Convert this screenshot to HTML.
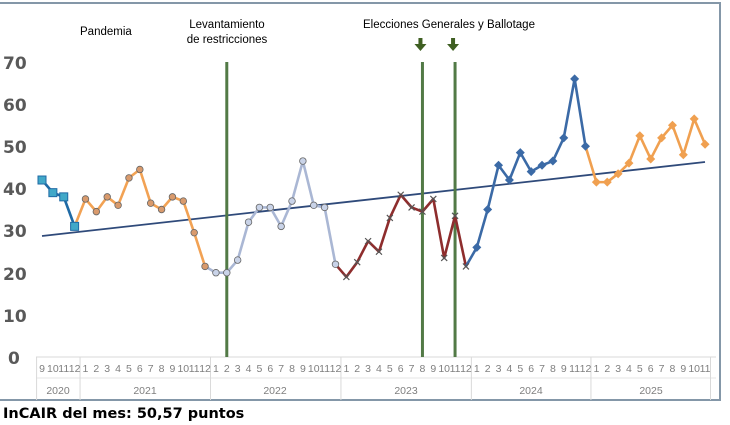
<!DOCTYPE html>
<html><head><meta charset="utf-8"><style>
html,body{margin:0;padding:0;background:#fff;width:730px;height:425px;overflow:hidden}
svg{display:block;font-family:"Liberation Sans",sans-serif}
.m{font-size:10.5px;fill:#7f7f7f;text-anchor:middle}
.yr{font-size:10.5px;fill:#7f7f7f;text-anchor:middle}
.yl{font-size:17px;font-weight:bold;fill:#595959;font-family:"DejaVu Sans",sans-serif}
.ann{font-size:11.5px;fill:#000}
</style></head><body>
<svg id="s" width="730" height="425" viewBox="0 0 730 425">
<rect x="-2" y="3" width="722" height="397" fill="#fff" stroke="#8497a8" stroke-width="2"/>
<g id="grid"></g>
<text class="yl" x="3" y="69">70</text>
<text class="yl" x="3" y="111">60</text>
<text class="yl" x="3" y="153">50</text>
<text class="yl" x="3" y="195">40</text>
<text class="yl" x="3" y="237">30</text>
<text class="yl" x="3" y="280">20</text>
<text class="yl" x="3" y="322">10</text>
<text class="yl" x="8" y="364">0</text>
<text class="ann" x="80" y="35">Pandemia</text>
<text class="ann" x="227" y="28" text-anchor="middle">Levantamiento</text>
<text class="ann" x="227" y="43" text-anchor="middle">de restricciones</text>
<text class="ann" x="363" y="28">Elecciones  Generales  y Ballotage</text>
<g id="months">
<text class="m">9</text><text class="m">10</text><text class="m">11</text><text class="m">12</text>
<text class="m">1</text><text class="m">2</text><text class="m">3</text><text class="m">4</text><text class="m">5</text><text class="m">6</text><text class="m">7</text><text class="m">8</text><text class="m">9</text><text class="m">10</text><text class="m">11</text><text class="m">12</text>
<text class="m">1</text><text class="m">2</text><text class="m">3</text><text class="m">4</text><text class="m">5</text><text class="m">6</text><text class="m">7</text><text class="m">8</text><text class="m">9</text><text class="m">10</text><text class="m">11</text><text class="m">12</text>
<text class="m">1</text><text class="m">2</text><text class="m">3</text><text class="m">4</text><text class="m">5</text><text class="m">6</text><text class="m">7</text><text class="m">8</text><text class="m">9</text><text class="m">10</text><text class="m">11</text><text class="m">12</text>
<text class="m">1</text><text class="m">2</text><text class="m">3</text><text class="m">4</text><text class="m">5</text><text class="m">6</text><text class="m">7</text><text class="m">8</text><text class="m">9</text><text class="m">11</text><text class="m">12</text>
<text class="m">1</text><text class="m">2</text><text class="m">3</text><text class="m">4</text><text class="m">5</text><text class="m">6</text><text class="m">7</text><text class="m">8</text><text class="m">9</text><text class="m">10</text><text class="m">11</text>
</g>
<text class="yr" x="58" y="394">2020</text>
<text class="yr" x="145" y="394">2021</text>
<text class="yr" x="275" y="394">2022</text>
<text class="yr" x="406" y="394">2023</text>
<text class="yr" x="531" y="394">2024</text>
<text class="yr" x="651" y="394">2025</text>
<g id="plot"></g>
<text x="3" y="418" font-family="DejaVu Sans,sans-serif" font-weight="bold" font-size="14.5" fill="#000">InCAIR del mes: 50,57 puntos</text>
</svg>
<script>
var NS="http://www.w3.org/2000/svg",s=10.87,x0=42;
function X(i){return x0+i*s}
function Y(v){return 357-4.214*v}
function el(p,t,a){var e=document.createElementNS(NS,t);for(var k in a)e.setAttribute(k,a[k]);p.appendChild(e);return e}
var ms=document.querySelectorAll('#months text');
ms.forEach(function(t,i){t.setAttribute('x',X(i));t.setAttribute('y',372);});
var g=document.getElementById('grid');
el(g,'line',{x1:36,y1:357,x2:716,y2:357,stroke:'#d9d9d9'});
el(g,'line',{x1:36,y1:378,x2:716,y2:378,stroke:'#e6e6e6'});
[0,4,16,28,40,51,62].forEach(function(b){var xx=x0+(b-0.5)*s;el(g,'line',{x1:xx,y1:357,x2:xx,y2:400,stroke:'#d9d9d9'});});
var p=document.getElementById('plot');
// trend
el(p,'line',{x1:42,y1:236,x2:705,y2:162,stroke:'#2f4a7a','stroke-width':1.8});
// vertical lines
[17,35,38].forEach(function(i){el(p,'line',{x1:X(i),y1:62,x2:X(i),y2:357,stroke:'#527a46','stroke-width':3});});
[35,38].forEach(function(i){var xx=X(i)-2;el(p,'path',{d:'M'+(xx-2)+' 38h4v6h4l-6 7l-6 -7h4z',fill:'#3f5f22'});});
var series=[
 {s:0,v:[42,39,38,31],c:'#1f6aa5',m:'sq',mf:'#41a8c8'},
 {s:3,v:[31,37.5,34.5,38,36,42.5,44.5,36.5,35,38,37,29.5,21.5],c:'#f2a254',m:'ci',mf:'#d99a6c'},
 {s:15,v:[21.5,20,20,23,32,35.5,35.5,31,37,46.5,36,35.5,22],c:'#aab7d4',m:'ci',mf:'#c9d3e8'},
 {s:27,v:[22,19,22.5,27.5,25,33,38.5,35.5,34.5,37.5,23.5,33.5,21.5],c:'#8e2d2d',m:'x',mf:'#b05050'},
 {s:39,v:[21.5,26,35,45.5,42,48.5,44,45.5,46.5,52,66,50],c:'#3b6aa6',m:'di',mf:'#3b6aa6'},
 {s:50,v:[50,41.5,41.5,43.5,46,52.5,47,52,55,48,56.5,50.5],c:'#f0a050',m:'di',mf:'#f0a050'}
];
series.forEach(function(se,k){
 var d=se.v.map(function(v,j){return (j?'L':'M')+X(se.s+j)+' '+Y(v)}).join(' ');
 el(p,'path',{d:d,fill:'none',stroke:se.c,'stroke-width':2.6,'stroke-linejoin':'round'});
});
series.forEach(function(se,k){
 se.v.forEach(function(v,j){
  if(j==0&&k>0)return;
  var x=X(se.s+j),y=Y(v);
  if(se.m=='sq')el(p,'rect',{x:x-4,y:y-4,width:8,height:8,fill:se.mf,stroke:'#1f6aa5','stroke-width':1});
  else if(se.m=='ci')el(p,'circle',{cx:x,cy:y,r:3.3,fill:se.mf,stroke:'#666','stroke-width':0.8});
  else if(se.m=='x'){el(p,'path',{d:'M'+(x-3)+' '+(y-3)+'l6 6M'+(x+3)+' '+(y-3)+'l-6 6',stroke:'#555','stroke-width':1.2});}
  else el(p,'path',{d:'M'+x+' '+(y-4.5)+'l4.5 4.5l-4.5 4.5l-4.5 -4.5z',fill:se.mf});
 });
});
</script>
</body></html>
